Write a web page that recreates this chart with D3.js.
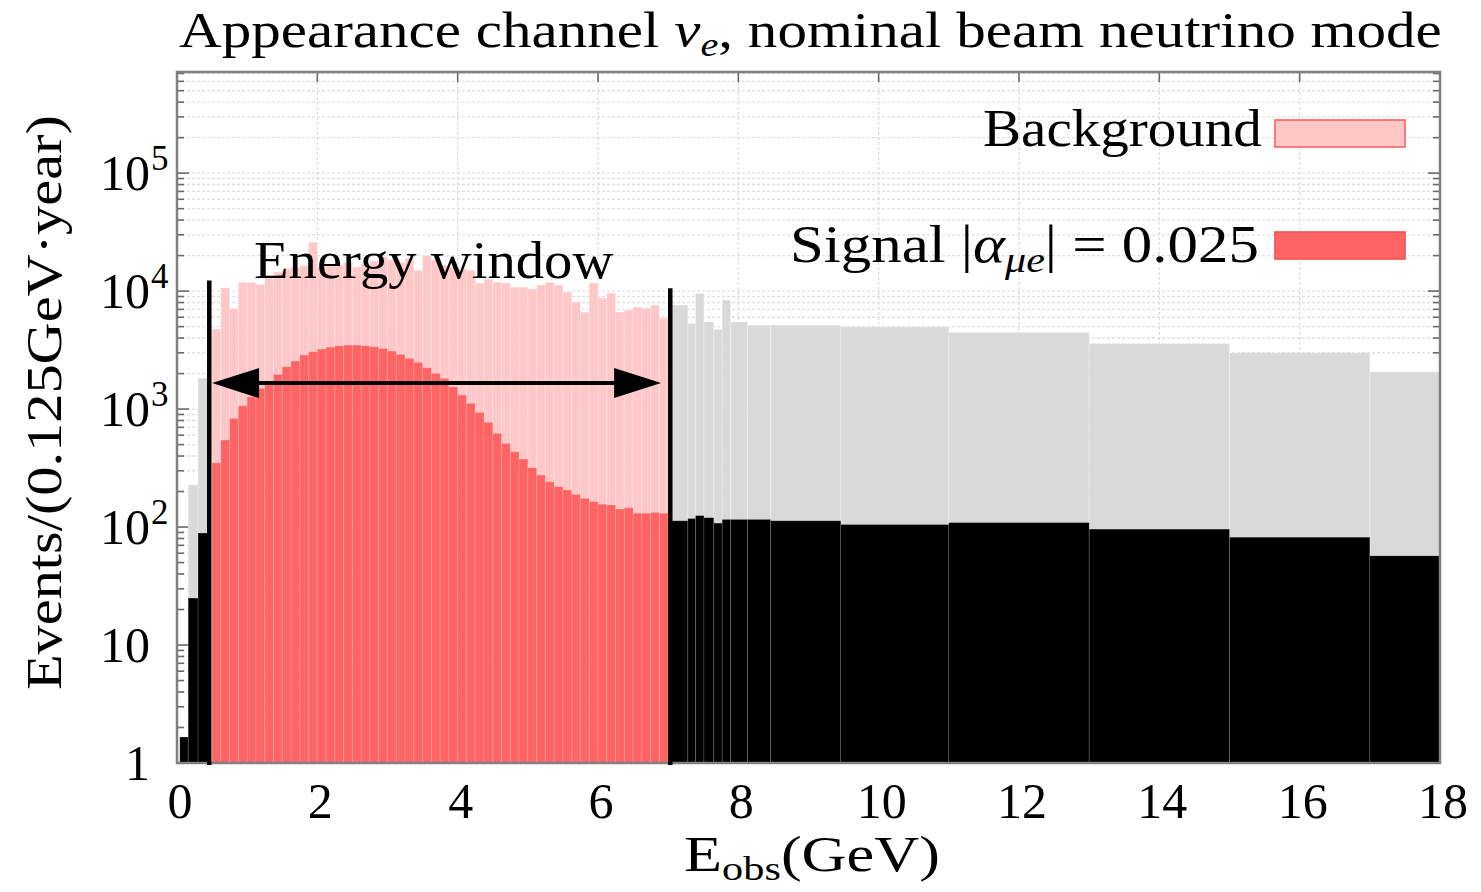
<!DOCTYPE html>
<html>
<head>
<meta charset="utf-8">
<script src="https://cdn.jsdelivr.net/npm/d3@7"></script>
<style>
  html, body { margin: 0; background: #fff; }
  text { font-family: "Liberation Serif", "DejaVu Serif", serif; fill: #000; }
</style>
</head>
<body>
<svg id="chart" width="1481" height="892"></svg>
<script>
// ---- Data: events per 0.125 GeV per year ----
// Energy window 0.5 - 7.0 GeV, bins of 0.125 GeV
const windowStart = 0.5;
const binWidth = 0.125;
const windowBackground = [
  4760, 10660, 7130, 11850, 11850, 11400, 13100, 14500, 15500, 16000,
  16500, 26000, 16000, 17000, 16500, 17500, 16000, 17000, 18000, 19500,
  18500, 17500, 19000, 15000, 20000, 18500, 16600, 16000, 15500, 15000,
  11700, 12640, 11900, 11700, 10800, 10800, 10400, 11250, 11900, 11250,
  9810, 8070, 6640, 11700, 8730, 9610, 6640, 6900, 7310, 7170,
  7610, 5900
];
const windowSignal = [
  350, 546, 834, 1067, 1271, 1497, 1703, 1966, 2284, 2553,
  2868, 3060, 3224, 3352, 3436, 3485, 3485, 3436, 3373, 3265,
  3100, 2905, 2690, 2488, 2239, 2006, 1820, 1545, 1314, 1117,
  937, 771, 622, 512, 435, 377, 318, 276, 242, 220,
  206, 189, 175, 164, 156, 154, 142, 146, 131, 131,
  133, 131
];
// Below the window
const lowEdges = [0.04, 0.16, 0.30, 0.46];
const lowBackground = [null, 228, 1830];
const lowSignal = [1.66, 25, 89];
// Above the window (wider bins)
const highEdges = [7.0, 7.28, 7.39, 7.51, 7.65, 7.77, 7.89, 8.13, 8.46, 9.46, 11.0, 13.0, 15.0, 17.0, 18.0];
const highBackground = [7610, 5320, 9550, 5490, 4730, 8390, 5490, 5150, 5150, 4980, 4470, 3600, 3000, 2070];
const highSignal = [113, 118, 125, 120, 108, 116, 116, 116, 113, 105, 109, 96, 82, 57];

// Axis ticks
const xTicks = [0, 2, 4, 6, 8, 10, 12, 14, 16, 18];
const yTicks = [1, 10, 100, 1000, 10000, 100000];
const yMax = 7.2e5;

// Energy window markers
const windowLines = [0.46, 7.03];
const windowLineTops = [12300, 10600];
const arrowEnds = [0.5, 6.9];
const arrowLevel = 1660;

// ---- Layout ----
const svg = d3.select("#chart");
const plot = { left: 177, right: 1440, top: 72, bottom: 763 };
const x = d3.scaleLinear().domain([0, 18]).range([plot.left, plot.right]);
const y = d3.scaleLog().domain([1, yMax]).range([plot.bottom, plot.top]);

const colors = {
  bgIn: "#ffc8c8", sigIn: "#ff6464",
  bgOut: "#d9d9d9", sigOut: "#000000"
};

// Build bin records
const bins = [];
lowSignal.forEach((s, i) => bins.push({ lo: lowEdges[i], hi: lowEdges[i + 1], bg: lowBackground[i], sig: s, inside: false }));
windowSignal.forEach((s, i) => bins.push({
  lo: windowStart + i * binWidth, hi: windowStart + (i + 1) * binWidth,
  bg: windowBackground[i], sig: s, inside: true
}));
highSignal.forEach((s, i) => bins.push({ lo: highEdges[i], hi: highEdges[i + 1], bg: highBackground[i], sig: s, inside: false }));

// ---- Grid ----
const grid = svg.append("g").attr("stroke", "#e0e0e0").attr("stroke-width", 1.4).attr("stroke-dasharray", "3,2");
const minorVals = [];
for (let k = 0; k <= 5; k++) for (let m = 1; m <= 9; m++) { const v = m * Math.pow(10, k); if (v < yMax) minorVals.push(v); }
grid.selectAll("line.h").data(minorVals).join("line")
  .attr("x1", plot.left).attr("x2", plot.right)
  .attr("y1", d => y(d)).attr("y2", d => y(d));
grid.selectAll("line.v").data(xTicks.slice(1, -1)).join("line")
  .attr("x1", d => x(d)).attr("x2", d => x(d))
  .attr("y1", plot.top).attr("y2", plot.bottom);

// ---- Ticks ----
const ticks = svg.append("g").attr("stroke", "#6a6a6a").attr("stroke-width", 1.6);
minorVals.forEach(v => {
  const len = yTicks.includes(v) ? 12 : 7;
  ticks.append("line").attr("x1", plot.left).attr("x2", plot.left + len).attr("y1", y(v)).attr("y2", y(v));
  ticks.append("line").attr("x1", plot.right).attr("x2", plot.right - len).attr("y1", y(v)).attr("y2", y(v));
});
xTicks.forEach(v => {
  ticks.append("line").attr("x1", x(v)).attr("x2", x(v)).attr("y1", plot.top).attr("y2", plot.top + 10);
  ticks.append("line").attr("x1", x(v)).attr("x2", x(v)).attr("y1", plot.bottom).attr("y2", plot.bottom - 10);
});

// ---- Bars ----
const bars = svg.append("g");
bars.selectAll("rect.bg").data(bins.filter(d => d.bg)).join("rect")
  .attr("x", d => x(d.lo)).attr("width", d => x(d.hi) - x(d.lo))
  .attr("y", d => y(d.bg)).attr("height", d => y(1) - y(d.bg))
  .attr("fill", d => d.inside ? colors.bgIn : colors.bgOut)
  .attr("stroke", "rgba(255,255,255,0.25)").attr("stroke-width", 1);
bars.selectAll("rect.sig").data(bins.filter(d => d.sig)).join("rect")
  .attr("x", d => x(d.lo)).attr("width", d => x(d.hi) - x(d.lo))
  .attr("y", d => y(d.sig)).attr("height", d => y(1) - y(d.sig))
  .attr("fill", d => d.inside ? colors.sigIn : colors.sigOut)
  .attr("stroke", d => d.inside ? "rgba(255,255,255,0.15)" : "rgba(255,255,255,0.15)").attr("stroke-width", 1);

// ---- Frame ----
svg.append("rect")
  .attr("x", plot.left).attr("y", plot.top)
  .attr("width", plot.right - plot.left).attr("height", plot.bottom - plot.top)
  .attr("fill", "none").attr("stroke", "#808080").attr("stroke-width", 2.5);

// ---- Energy window markers ----
const win = svg.append("g");
windowLines.forEach((v, i) => {
  win.append("line").attr("x1", x(v)).attr("x2", x(v))
    .attr("y1", y(1) + 2).attr("y2", y(windowLineTops[i]))
    .attr("stroke", "#000").attr("stroke-width", 4.5);
});
const ay = y(arrowLevel), headLen = 47, headHalf = 15;
const ax0 = x(arrowEnds[0]), ax1 = x(arrowEnds[1]);
win.append("line").attr("x1", ax0 + headLen - 2).attr("x2", ax1 - headLen + 2)
  .attr("y1", ay).attr("y2", ay).attr("stroke", "#000").attr("stroke-width", 4);
win.append("path").attr("d", `M${ax0},${ay} L${ax0 + headLen},${ay - headHalf} L${ax0 + headLen},${ay + headHalf} Z`).attr("fill", "#000");
win.append("path").attr("d", `M${ax1},${ay} L${ax1 - headLen},${ay - headHalf} L${ax1 - headLen},${ay + headHalf} Z`).attr("fill", "#000");

// ---- Text helpers ----
function fitX(sel, x0, x1) {
  const bb = sel.node().getBBox();
  const s = (x1 - x0) / bb.width;
  sel.attr("transform", `translate(${x0 - bb.x * s},0) scale(${s},1)`);
}

// Title
const title = svg.append("text").attr("x", 0).attr("y", 47).attr("font-size", 50);
title.append("tspan").text("Appearance channel ");
title.append("tspan").attr("font-style", "italic").text("ν");
title.append("tspan").attr("font-style", "italic").attr("font-size", 34).attr("dy", 9).text("e");
title.append("tspan").attr("dy", -9).text(", nominal beam neutrino mode");
fitX(title, 179, 1442);

// Energy window label
const ew = svg.append("text").attr("x", 0).attr("y", 278).attr("font-size", 52).text("Energy window");
fitX(ew, 254, 614);

// Legend
const legend = svg.append("g");
const lgBg = legend.append("text").attr("x", 0).attr("y", 146).attr("font-size", 52).text("Background");
fitX(lgBg, 983, 1262);
legend.append("rect").attr("x", 1275).attr("y", 120).attr("width", 130).attr("height", 27)
  .attr("fill", colors.bgIn).attr("stroke", "#ff6060").attr("stroke-width", 1.6);
const lgSig = legend.append("text").attr("x", 0).attr("y", 262).attr("font-size", 52);
lgSig.append("tspan").text("Signal |");
lgSig.append("tspan").attr("font-style", "italic").text("α");
lgSig.append("tspan").attr("font-style", "italic").attr("font-size", 36).attr("dy", 10).text("μe");
lgSig.append("tspan").attr("dy", -10).text("| = 0.025");
fitX(lgSig, 790, 1259);
legend.append("rect").attr("x", 1275).attr("y", 232).attr("width", 130).attr("height", 27)
  .attr("fill", colors.sigIn).attr("stroke", "#f05050").attr("stroke-width", 1.6);

// X tick labels
svg.append("g").selectAll("text").data(xTicks).join("text")
  .attr("x", d => x(d) + 3).attr("y", 818).attr("font-size", 50)
  .attr("text-anchor", "middle").text(d => d);

// Y tick labels
const yl = svg.append("g");
yTicks.forEach(v => {
  const exp = Math.round(Math.log10(v));
  const base = exp === 0 ? "1" : "10";
  yl.append("text").attr("x", 150).attr("y", y(v) + 17).attr("font-size", 50)
    .attr("text-anchor", "end").text(base);
  if (exp >= 2) {
    yl.append("text").attr("x", 151).attr("y", y(v) - 3).attr("font-size", 35).text(exp);
  }
});

// X axis title
const xt = svg.append("text").attr("x", 0).attr("y", 871).attr("font-size", 50);
xt.append("tspan").text("E");
xt.append("tspan").attr("font-size", 34).attr("dy", 9).text("obs");
xt.append("tspan").attr("dy", -9).text("(GeV)");
fitX(xt, 684, 940);

// Y axis title
const ytit = svg.append("text").attr("x", 0).attr("y", 0).attr("font-size", 50)
  .text("Events/(0.125GeV·year)");
{
  const bb = ytit.node().getBBox();
  const s = 575 / bb.width;
  ytit.attr("transform", `translate(61,690) rotate(-90) scale(${s},1) translate(${-bb.x},0)`);
}
</script>
</body>
</html>
